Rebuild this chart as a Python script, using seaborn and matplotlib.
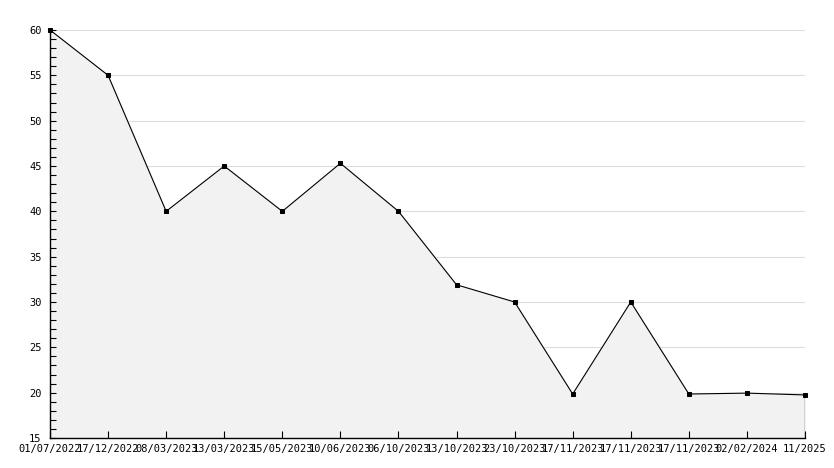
import numpy as np
import pandas as pd
import matplotlib
matplotlib.use("Agg")
import matplotlib.pyplot as plt
from matplotlib.ticker import MultipleLocator
import seaborn as sns

sns.set_style("white")
plt.rcParams['font.family'] = ['DejaVu Sans Mono']

# data
dates = ["01/07/2022", "17/12/2022", "08/03/2023", "13/03/2023", "15/05/2023",
         "10/06/2023", "06/10/2023", "13/10/2023", "23/10/2023", "17/11/2023",
         "17/11/2023", "17/11/2023", "02/02/2024", "11/2025"]
values = [60, 55, 40, 45, 40, 45.3, 40, 31.9, 30, 19.85, 30, 19.85, 19.95, 19.75]
yticks = [15, 20, 25, 30, 35, 40, 45, 50, 55, 60]

df = pd.DataFrame({"pos": np.arange(len(values)), "value": values})

fig = plt.figure(figsize=(8.34, 4.68), dpi=100)
ax = fig.add_axes([50/834, 1-438/468, 755/834, 408/468])

# grid behind the filled area, ticks on top
for t in yticks[1:]:
    ax.axhline(t, color="#dddddd", lw=0.8, zorder=0.5)
ax.fill_between(df["pos"], df["value"], 15, color="#f2f2f2", zorder=1)
ax.vlines(df["pos"].iloc[-1], 15, df["value"].iloc[-1], color="black", lw=0.9, zorder=3)
sns.lineplot(data=df, x="pos", y="value", ax=ax, color="black", lw=0.8,
             marker="s", markersize=3.5, markeredgecolor="black", zorder=4,
             clip_on=False)

ax.set_xlim(0, len(values) - 1)
ax.set_ylim(15, 60)
ax.set_xticks(df["pos"])
ax.set_xticklabels(dates)
ax.set_yticks(yticks)
ax.yaxis.set_minor_locator(MultipleLocator(1))
ax.grid(False)
ax.set_axisbelow(False)
ax.tick_params(axis="both", which="both", direction="in", color="black",
               labelcolor="black", labelsize=7.5, bottom=True, left=True, width=0.8)
ax.tick_params(axis="x", length=5, pad=4)
ax.tick_params(axis="y", which="major", length=4, pad=6)
ax.tick_params(axis="y", which="minor", length=4)
ax.set_xlabel("")
ax.set_ylabel("")

for s in ["top", "right"]:
    ax.spines[s].set_visible(False)
for s in ["left", "bottom"]:
    ax.spines[s].set_color("black")
    ax.spines[s].set_linewidth(1)

fig.savefig("out.png", dpi=100)
